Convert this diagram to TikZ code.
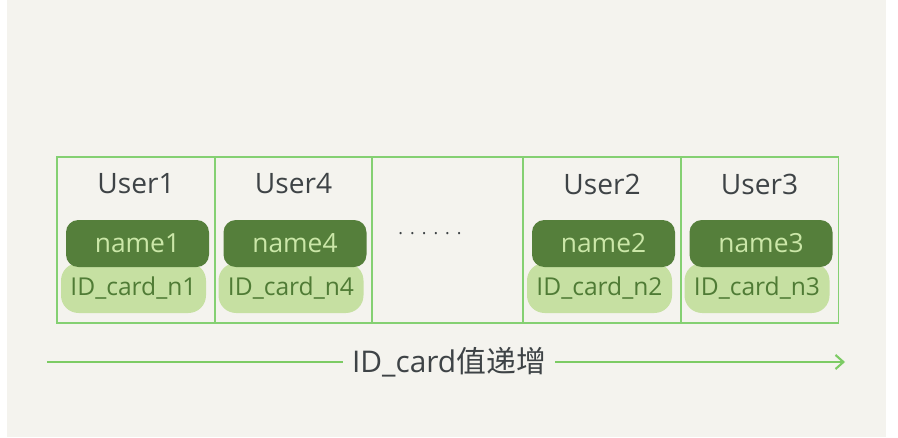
\documentclass[tikz,border=0pt]{standalone}
\usepackage{fontspec}
\usetikzlibrary{arrows.meta}
\setmainfont{Open Sans}
\newfontfamily\cjk{Noto Sans CJK SC}
\definecolor{sfondo}{HTML}{F4F3EE}
\definecolor{bordo}{HTML}{84D072}
\definecolor{scuro}{HTML}{557F3B}
\definecolor{chiaro}{HTML}{C6E0A2}
\definecolor{testochiaro}{HTML}{CBE7A8}
\definecolor{testoscuro}{HTML}{4F7B35}
\definecolor{grigio}{HTML}{3E4346}
\definecolor{freccia}{HTML}{7CCB64}
\begin{document}
\begin{tikzpicture}[scale=1.0,
        cella/.style={draw=bordo, line width=1pt, minimum width=3.16cm, minimum height=3.32cm, inner sep=0pt},
        utente/.style={font=\fontsize{16}{18}\selectfont, text=grigio},
        nome/.style={fill=scuro, rounded corners=7pt, minimum width=2.86cm, minimum height=0.94cm, inner sep=0pt, text=testochiaro, font=\fontsize{15}{17}\selectfont},
        chiave/.style={fill=chiaro, rounded corners=10pt, minimum width=2.9cm, minimum height=1.0cm, inner sep=0pt, text=testoscuro, font=\fontsize{14}{16}\selectfont},
        linea/.style={draw=freccia, line width=1.2pt}]

        % Sfondo
        \useasboundingbox (0, 0) rectangle (17.96, 8.74);
        \fill[sfondo] (0.14, 0) rectangle (17.72, 8.74);

        % Celle
        \node[cella] (c1) at (2.72, 3.94) {};
        \node[cella] (c4) at (5.87, 3.94) {};
        \node[cella, minimum width=3.02cm] (cx) at (8.95, 3.94) {};
        \node[cella] (c2) at (12.04, 3.94) {};
        \node[cella] (c3) at (15.19, 3.94) {};

        % Titoli utenti
        \node[utente] (u1) at (2.72, 5.06) {User1};
        \node[utente] (u4) at (5.87, 5.06) {User4};
        \node[utente] (u2) at (12.04, 5.06) {User2};
        \node[utente] (u3) at (15.19, 5.06) {User3};

        % Chiavi ID_card
        \node[chiave] (k1) at (2.67, 2.98) {ID\_card\_n1};
        \node[chiave] (k4) at (5.82, 2.98) {ID\_card\_n4};
        \node[chiave] (k2) at (11.99, 2.98) {ID\_card\_n2};
        \node[chiave] (k3) at (15.14, 2.98) {ID\_card\_n3};

        % Nomi
        \node[nome] (n1) at (2.75, 3.87) {name1};
        \node[nome] (n4) at (5.9, 3.87) {name4};
        \node[nome] (n2) at (12.07, 3.87) {name2};
        \node[nome] (n3) at (15.22, 3.87) {name3};

        % Puntini
        \node[text=grigio] (pp) at (8.6, 4.06) {.\hspace{4pt}.\hspace{4pt}.\hspace{4pt}.\hspace{4pt}.\hspace{4pt}.};

        % Asse
        \coordinate (inizio) at (0.94, 1.5);
        \coordinate (fine) at (16.9, 1.5);
        \node[text=grigio, font=\fontsize{17}{19}\selectfont, inner sep=5pt] (asse) at (8.98, 1.5) {ID\_card{\cjk 值递增}};
        \draw[linea] (inizio) -- (asse);
        \draw[linea, -{Straight Barb[length=4.5pt, width=8pt]}] (asse) -- (fine);

    \end{tikzpicture}
\end{document}
